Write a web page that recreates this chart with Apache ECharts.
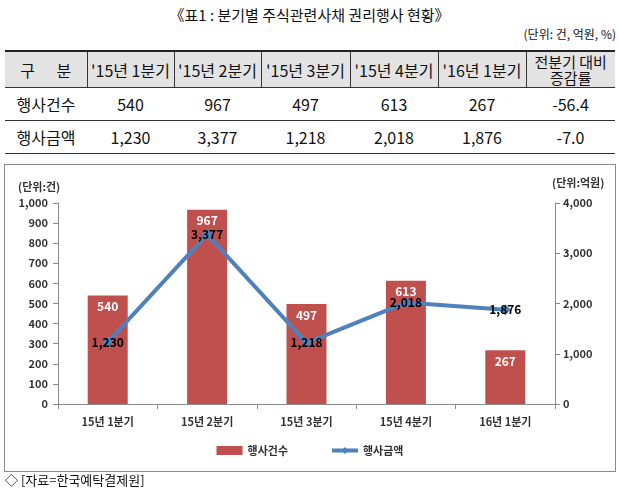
<!DOCTYPE html>
<html>
<head>
<meta charset="utf-8" />
<title>분기별 주식관련사채 권리행사 현황</title>
<style type="text/css">
*{margin:0;padding:0;}
body{width:619px;height:494px;background:#fff;position:relative;font-family:"Noto Sans CJK KR",sans-serif;color:#111;overflow:hidden;}
#title{position:absolute;left:0;top:4px;width:619px;text-align:center;font-size:15px;line-height:22px;}
#unit{position:absolute;right:3px;top:25px;font-size:12px;line-height:18px;}
#tbl{position:absolute;left:5px;top:50px;width:610px;border-collapse:collapse;font-size:16px;}
#tbl td{text-align:center;border-bottom:1px solid #333;padding:0;}
#tbl tr.head td{background:#e3e3e3;height:35px;border-top:2px solid #222;border-left:1px solid #333;line-height:16px;}
#tbl tr.head td:first-child{border-left:none;}
#tbl tr.head td:last-child{font-size:15px;}
#tbl tr.row td{height:32px;}
#test{position:absolute;left:4px;top:164px;width:610px;height:306px;border:1px solid #8a8a8a;}
#note{position:absolute;left:5px;top:471px;font-size:13px;line-height:18px;}
</style>
</head>
<body>
<div id="title">《표1 : 분기별 주식관련사채 권리행사 현황》</div>
<div id="unit">(단위: 건, 억원, %)</div>
<table id="tbl">
	<colgroup><col style="width:82px"><col style="width:87px"><col style="width:87px"><col style="width:89px"><col style="width:88px"><col style="width:88px"><col style="width:89px"></colgroup>
	<tr class="head" id="headRow"></tr>
	<tr class="row" id="row1"></tr>
	<tr class="row" id="row2"></tr>
</table>
<div id="test"></div>
<div id="note">◇ [자료=한국예탁결제원]</div>
<script src="https://cdn.jsdelivr.net/npm/echarts@6/dist/echarts.min.js"></script>
<script type="text/javascript">
	// 표/차트 데이터
	var quarters = ['15년 1분기', '15년 2분기', '15년 3분기', '15년 4분기', '16년 1분기'];
	var headLabels = ["'15년 1분기", "'15년 2분기", "'15년 3분기", "'15년 4분기", "'16년 1분기"];
	var countData = [540, 967, 497, 613, 267];     // 행사건수 (건)
	var amountData = [1230, 3377, 1218, 2018, 1876]; // 행사금액 (억원)
	var countChange = '-56.4';
	var amountChange = '-7.0';

	var comma = function(v){
		return String(v).replace(/\B(?=(\d{3})+(?!\d))/g, ',');
	};

	// 표 만들기
	var head = '<td>구&nbsp;&nbsp;&nbsp;&nbsp;&nbsp;&nbsp;분</td>';
	for (var i = 0; i < headLabels.length; i++) {
		head += '<td>' + headLabels[i] + '</td>';
	}
	head += '<td>전분기 대비<br>증감률</td>';
	document.getElementById('headRow').innerHTML = head;

	var r1 = '<td>행사건수</td>', r2 = '<td>행사금액</td>';
	for (var j = 0; j < quarters.length; j++) {
		r1 += '<td>' + comma(countData[j]) + '</td>';
		r2 += '<td>' + comma(amountData[j]) + '</td>';
	}
	r1 += '<td>' + countChange + '</td>';
	r2 += '<td>' + amountChange + '</td>';
	document.getElementById('row1').innerHTML = r1;
	document.getElementById('row2').innerHTML = r2;

	var font = '"Noto Sans CJK KR", sans-serif';
	var axisLine = {show: true, lineStyle: {color: '#8a8a8a'}};

	var opt = {
		textStyle: {fontFamily: font},
		animation: false,
		grid: {left: 53, right: 60, top: 38, bottom: 67},
		legend: {
			bottom: 10,
			left: 'center',
			itemGap: 42,
			itemWidth: 26,
			itemHeight: 9,
			textStyle: {fontSize: 11, fontWeight: 'bold', color: '#333'},
			data: [
				{name: '행사건수', icon: 'rect'},
				{name: '행사금액', lineStyle: {width: 4}}
			]
		},
		graphic: [
			{type: 'text', left: 13, top: 16, style: {text: '(단위:건)', font: 'bold 11px ' + font, fill: '#333'}},
			{type: 'text', left: 547, top: 12, style: {text: '(단위:억원)', font: 'bold 11px ' + font, fill: '#333'}}
		],
		xAxis: {
			type: 'category',
			data: quarters,
			axisLine: axisLine,
			axisTick: {show: true, length: 5, lineStyle: {color: '#8a8a8a'}},
			axisLabel: {interval: 0, margin: 12, fontSize: 11, fontWeight: 'bold', color: '#333'}
		},
		yAxis: [
			{
				type: 'value', min: 0, max: 1000, interval: 100,
				axisLine: axisLine,
				axisTick: {show: true, length: 5, lineStyle: {color: '#8a8a8a'}},
				splitLine: {show: false},
				axisLabel: {margin: 10, fontSize: 11, fontWeight: 'bold', color: '#333', formatter: function(v){ return comma(v); }}
			},
			{
				type: 'value', min: 0, max: 4000, interval: 1000,
				position: 'right',
				axisLine: axisLine,
				axisTick: {show: true, length: 5, lineStyle: {color: '#8a8a8a'}},
				splitLine: {show: false},
				axisLabel: {margin: 8, fontSize: 11, fontWeight: 'bold', color: '#333', formatter: function(v){ return comma(v); }}
			}
		],
		series: [
			{
				name: '행사건수',
				type: 'bar',
				barWidth: 40,
				yAxisIndex: 0,
				itemStyle: {color: '#C0504D'},
				label: {show: true, position: 'insideTop', distance: 5, color: '#fff', fontSize: 12, fontWeight: 'bold'},
				data: countData
			},
			{
				name: '행사금액',
				type: 'line',
				yAxisIndex: 1,
				symbol: 'diamond',
				symbolSize: 11,
				lineStyle: {color: '#4F81BD', width: 4},
				itemStyle: {color: '#4F81BD'},
				label: {show: true, position: 'inside', color: '#000', fontSize: 12, fontWeight: 'bold', formatter: function(p){ return comma(p.value); }},
				data: amountData
			}
		]
	};

	var chart = echarts.init(document.getElementById('test'));
	chart.setOption(opt);
</script>
</body>
</html>
